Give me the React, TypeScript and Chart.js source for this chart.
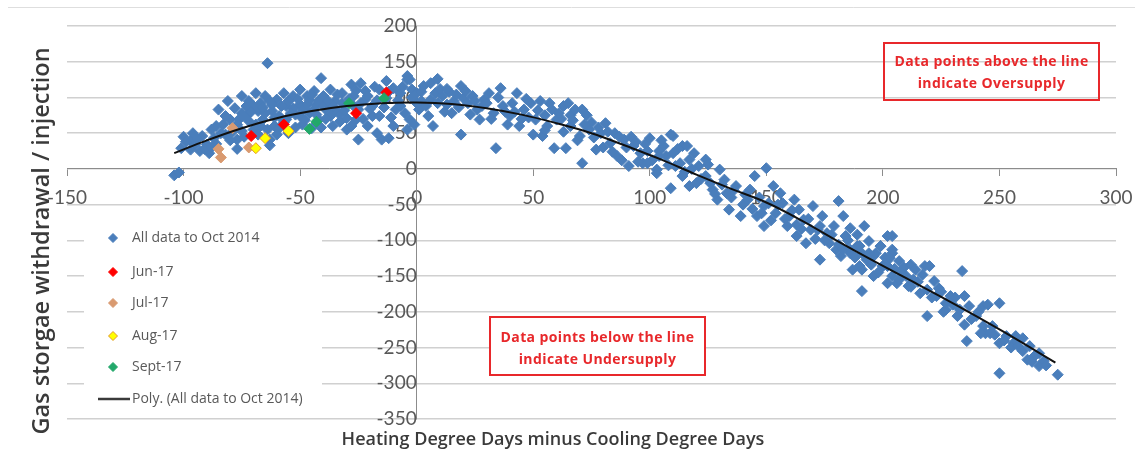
import { useEffect, useRef } from 'react';
import { Chart, registerables } from 'chart.js';

Chart.register(...registerables);

// ---------- DATA ----------
const xTickRange = { min: -150, max: 300, step: 50 };
const yTickRange = { min: -350, max: 200, step: 50 };

const seriesNames = [
  'All data to Oct 2014',
  'Jun-17',
  'Jul-17',
  'Aug-17',
  'Sept-17',
  'Poly. (All data to Oct 2014)',
];

const allData: [number, number][] = [
  [-104, -9], [-102, -5],
  [-100, 45], [-97, 39], [-101, 29], [-97, 27], [-95, 34], [-93, 25], [-90, 34], [-89, 22], [-88, 55], [-87, 43],
  [-85, 83], [-81, 95], [-83, 62], [-82, 48], [-80, 69], [-77, 41], [-75, 78], [-75, 102], [-73, 88], [-72, 67],
  [-70, 55], [-69, 106], [-68, 81], [-67, 92], [-66, 69], [-65, 102], [-63, 41], [-62, 81], [-61, 60], [-60, 97],
  [-59, 74], [-57, 106], [-56, 88], [-55, 50], [-53, 102], [-52, 76], [-50, 111], [-50, 90], [-49, 62], [-47, 102],
  [-46, 78], [-44, 109], [-43, 90], [-42, 69], [-40, 102], [-39, 83], [-37, 111], [-36, 60], [-35, 95], [-33, 76],
  [-32, 106], [-30, 55], [-28, 118], [-27, 88], [-26, 69], [-25, 41], [-24, 120], [-22, 97], [-21, 60], [-19, 74],
  [-17, 50], [-16, 111], [-15, 41], [-13, 123], [-12, 43], [-10, 60], [-9, 83], [-7, 106], [-4, 125], [-3, 69], [0, 92],
  [-96, 50], [-92, 46], [-86, 60], [-82, 74], [-77, 62], [-75, 53], [-73, 74], [-70, 88], [-67, 60], [-65, 78],
  [-62, 90], [-59, 57], [-56, 69], [-53, 85], [-50, 74], [-47, 90], [-45, 57], [-43, 76], [-40, 88], [-37, 74],
  [-35, 83], [-32, 92], [-30, 71], [-27, 102], [-25, 83], [-22, 109], [-19, 88], [-16, 74], [-13, 99], [-10, 113],
  [-7, 88], [-4, 55], [-2, 111], [-77, 28], [-63, 33],
  [-64, 148], [-41, 127], [-4, 130], [9, 126],
  [-99, 38], [-94, 42], [-91, 28], [-88, 30], [-86, 35], [-84, 50], [-80, 40], [-79, 52], [-78, 85], [-76, 70],
  [-74, 45], [-72, 95], [-71, 80], [-69, 62], [-68, 48], [-66, 86], [-64, 55], [-63, 95], [-61, 72], [-60, 48],
  [-58, 88], [-57, 65], [-55, 95], [-54, 78], [-52, 58], [-51, 98], [-49, 82], [-48, 68], [-46, 96], [-45, 104],
  [-44, 84], [-42, 96], [-41, 58], [-39, 70], [-38, 95], [-36, 88], [-34, 104], [-33, 66], [-31, 82], [-29, 98],
  [-28, 60], [-26, 110], [-24, 92], [-23, 70], [-21, 102], [-20, 84], [-18, 115], [-17, 96], [-14, 86], [-12, 108],
  [-11, 72], [-8, 96], [-6, 115], [-5, 78], [-2, 100], [-1, 62],
  [-3, 125], [0, 106], [3, 116], [1, 83], [5, 74], [7, 60], [6, 97], [8, 106], [11, 102], [13, 90], [15, 78],
  [19, 116], [19, 48], [20, 99], [22, 92], [26, 83], [27, 69], [29, 97], [31, 106], [33, 78], [34, 29], [36, 113],
  [37, 88], [39, 62], [40, 74], [43, 106], [44, 60], [46, 83], [49, 92], [50, 48], [51, 69], [53, 95], [54, 46],
  [56, 60], [58, 83], [59, 29], [60, 69], [63, 88], [64, 29], [66, 60], [68, 83], [70, 46], [71, 83], [71, 8],
  [74, 55], [77, 27], [79, 50], [81, 64], [83, 36], [86, 18], [89, 41], [91, 4], [93, 32], [96, 22], [97, 8],
  [100, 43], [103, -1], [106, 32], [107, 18], [110, 46], [111, 4], [114, 32], [117, 13],
  [2, 95], [10, 112], [16, 95], [24, 102], [14, 108], [28, 88], [42, 80], [48, 72], [55, 75], [62, 70], [66, 75],
  [75, 65], [85, 50], [92, 45], [98, 35], [104, 25],
  [2, 108], [4, 88], [6, 120], [9, 92], [12, 80], [13, 112], [17, 104], [18, 86], [21, 109], [23, 76], [25, 95],
  [30, 92], [32, 70], [35, 100], [38, 80], [41, 92], [45, 70], [47, 98], [52, 82], [55, 54], [57, 92], [61, 78],
  [63, 52], [65, 92], [67, 68], [69, 40], [72, 62], [73, 75], [76, 44], [78, 58], [80, 30], [82, 52], [84, 24],
  [87, 45], [88, 12], [90, 30], [94, 38], [95, 10], [99, 25], [101, 12], [105, 40], [108, 5], [112, 28], [115, -4],
  [109, 48], [99, 8], [103, -6], [110, 22], [113, 8], [109, -27], [114, -10], [119, 22], [117, -24], [121, 4],
  [124, -10], [127, -29], [130, -1], [129, -43], [133, -34], [137, -24], [139, -66], [142, -43], [145, -10], [150, 1],
  [149, -52], [149, -80], [153, -24], [154, -62], [157, -48], [159, -80], [162, -43], [163, -94], [166, -71],
  [167, -104], [170, -52], [172, -85], [173, -127], [174, -66], [177, -104], [179, -80], [181, -45], [182, -122],
  [183, -66], [184, -94], [187, -141], [189, -108], [192, -80], [193, -127], [196, -150], [199, -108], [202, -94],
  [202, -136], [204, -118], [206, -160],
  [104, 18], [116, 32], [120, -20], [124, 13], [132, -15], [134, -57], [143, -29], [146, -66], [156, -34], [160, -66],
  [164, -57], [169, -85], [176, -90], [180, -113], [186, -118], [190, -136], [196, -122], [200, -136], [204, -150],
  [118, 0], [122, -14], [125, 6], [126, -20], [128, -35], [131, -22], [135, -40], [136, -30], [140, -50], [141, -36],
  [144, -56], [147, -40], [148, -62], [151, -48], [152, -72], [155, -50], [158, -70], [161, -58], [163, -78],
  [165, -84], [168, -70], [171, -98], [173, -80], [175, -100], [178, -92], [181, -106], [183, -112], [185, -100],
  [188, -124], [191, -118], [195, -134], [198, -145], [201, -124], [205, -140], [207, -155], [209, -138],
  [186, -83], [189, -92], [186, -113], [190, -108], [194, -101], [193, -122], [191, -141], [191, -171], [197, -118],
  [200, -136], [202, -160], [204, -94], [203, -125], [207, -129], [208, -146], [211, -164], [212, -134], [214, -141],
  [216, -174], [218, -136], [220, -136], [219, -206], [222, -157], [224, -167], [227, -188], [229, -178], [234, -143],
  [232, -206], [235, -178], [235, -218], [237, -192], [236, -241], [243, -192], [245, -190], [250, -188], [244, -230],
  [247, -220], [250, -244], [250, -286], [257, -234], [260, -237], [263, -248], [262, -267], [267, -258], [267, -276],
  [275, -288],
  [194, -118], [199, -108], [204, -113], [210, -150], [213, -155], [219, -169], [223, -178], [227, -197], [233, -197],
  [240, -206], [243, -220], [246, -230], [253, -234], [256, -244], [260, -255], [265, -262], [269, -269],
  [212, -165], [215, -158], [217, -148], [221, -180], [225, -172], [226, -200], [230, -190], [231, -180], [238, -210],
  [241, -200], [242, -230], [248, -232], [252, -240], [255, -250], [258, -248], [264, -270], [270, -275],
];

const jun17: [number, number][] = [[-71, 46], [-57, 62], [-26, 78], [-13, 107]];
const jul17: [number, number][] = [[-79, 57], [-85, 28], [-84, 16], [-72, 30]];
const aug17: [number, number][] = [[-69, 29], [-65, 43], [-55, 53]];
const sept17: [number, number][] = [[-46, 56], [-43, 66], [-29, 92], [-14, 99]];

const polyTrend: [number, number][] = [
  [-104, 22], [-90, 40], [-75, 57], [-60, 71], [-45, 81], [-30, 88], [-15, 92], [0, 93], [15, 91], [30, 85],
  [45, 76], [60, 64], [75, 50], [90, 32], [105, 13], [120, -8], [135, -28], [150, -47], [165, -72], [180, -100],
  [195, -127], [210, -153], [225, -179], [240, -206], [255, -234], [274, -271],
];

const noteAbove = ['Data points above the line', 'indicate Oversupply'];
const noteBelow = ['Data points below the line', 'indicate Undersupply'];
const xTitle = 'Heating Degree Days minus Cooling Degree Days';
const yTitle = 'Gas storgae withdrawal / injection';

// ---------- STYLE ----------
const BLUE = '#4a7ebb';
const RED = '#ff0000';
const TAN = '#d99a70';
const AUG_FILL = '#ffff00';
const AUG_BORDER = '#e39a2c';
const GREEN = '#22a86a';
const TICK_COLOR = '#595959';
const GRID_COLOR = '#d0d0d0';
const AXIS_COLOR = '#8c8c8c';
const NOTE_RED = '#e8282b';

const toPts = (arr: [number, number][]) => arr.map(([x, y]) => ({ x, y }));

function diamond(ctx: CanvasRenderingContext2D, x: number, y: number, r: number, fill: string, stroke: string) {
  ctx.beginPath();
  ctx.moveTo(x, y - r);
  ctx.lineTo(x + r, y);
  ctx.lineTo(x, y + r);
  ctx.lineTo(x - r, y);
  ctx.closePath();
  ctx.fillStyle = fill;
  ctx.fill();
  ctx.lineWidth = 1;
  ctx.strokeStyle = stroke;
  ctx.stroke();
}

const zeroPad = (scale: any) => {
  scale.paddingTop = 0;
  scale.paddingBottom = 0;
  scale.paddingLeft = 0;
  scale.paddingRight = 0;
};

const decorPlugin = {
  id: 'decor',
  afterDraw(chart: any) {
    const ctx: CanvasRenderingContext2D = chart.ctx;
    ctx.save();

    // faint frame line at top
    ctx.strokeStyle = '#dedede';
    ctx.lineWidth = 1;
    ctx.beginPath();
    ctx.moveTo(8, 7.5);
    ctx.lineTo(1135, 7.5);
    ctx.stroke();

    // legend
    ctx.fillStyle = '#ffffff';
    ctx.fillRect(84, 222, 238, 190);
    const rows = [238, 272, 303, 336, 367, 399];
    const ds = chart.data.datasets;
    ctx.font = "14px 'Open Sans'";
    ctx.textBaseline = 'middle';
    ctx.textAlign = 'left';
    for (let i = 0; i < 5; i++) {
      const d = ds[i];
      diamond(ctx, 113, rows[i], 4.5, d.backgroundColor, d.borderColor);
      ctx.fillStyle = TICK_COLOR;
      ctx.fillText(d.label, 132, rows[i]);
    }
    ctx.strokeStyle = '#3a3a3a';
    ctx.lineWidth = 2.5;
    ctx.beginPath();
    ctx.moveTo(98, rows[5]);
    ctx.lineTo(130, rows[5]);
    ctx.stroke();
    ctx.fillStyle = TICK_COLOR;
    ctx.fillText(ds[5].label, 132, rows[5]);

    // note boxes
    const drawNote = (lines: string[], x0: number, y0: number, x1: number, y1: number, fill: boolean, ys: number[]) => {
      if (fill) {
        ctx.fillStyle = '#ffffff';
        ctx.fillRect(x0, y0, x1 - x0, y1 - y0);
      }
      ctx.strokeStyle = NOTE_RED;
      ctx.lineWidth = 2;
      ctx.strokeRect(x0, y0, x1 - x0, y1 - y0);
      ctx.fillStyle = NOTE_RED;
      ctx.font = "bold 14px 'Open Sans'";
      (ctx as any).letterSpacing = '0.4px';
      ctx.textAlign = 'center';
      ctx.textBaseline = 'middle';
      lines.forEach((t, i) => ctx.fillText(t, (x0 + x1) / 2, ys[i]));
      (ctx as any).letterSpacing = '0px';
    };
    drawNote(noteAbove, 884, 43, 1099, 100, false, [62, 84]);
    drawNote(noteBelow, 490, 317, 705, 375, true, [338, 360]);

    // axis titles
    ctx.fillStyle = '#3a3a3a';
    ctx.textAlign = 'center';
    ctx.textBaseline = 'middle';
    ctx.font = "600 18px 'Open Sans'";
    ctx.fillText(xTitle, 553, 440);
    ctx.save();
    ctx.translate(42, 241);
    ctx.rotate(-Math.PI / 2);
    ctx.font = "600 23.5px 'Open Sans'";
    ctx.fillText(yTitle, 0, 0);
    ctx.restore();

    ctx.restore();
  },
};

export default function App() {
  const canvasRef = useRef<HTMLCanvasElement | null>(null);

  useEffect(() => {
    if (!canvasRef.current) return;
    const pointDs = (label: string, data: [number, number][], bg: string, border: string, order: number, r = 5.5) => ({
      type: 'scatter' as const,
      label,
      data: toPts(data),
      backgroundColor: bg,
      borderColor: border,
      borderWidth: 1,
      pointStyle: 'rectRot',
      pointRadius: r,
      pointHoverRadius: r,
      order,
    });
    const chart = new Chart(canvasRef.current, {
      type: 'scatter',
      data: {
        datasets: [
          pointDs(seriesNames[0], allData, BLUE, BLUE, 6),
          pointDs(seriesNames[1], jun17, RED, RED, 5),
          pointDs(seriesNames[2], jul17, TAN, TAN, 4),
          pointDs(seriesNames[3], aug17, AUG_FILL, AUG_BORDER, 3),
          pointDs(seriesNames[4], sept17, GREEN, GREEN, 2),
          {
            type: 'line' as const,
            label: seriesNames[5],
            data: toPts(polyTrend),
            borderColor: '#111111',
            backgroundColor: '#111111',
            borderWidth: 2,
            pointRadius: 0,
            showLine: true,
            fill: false,
            tension: 0.4,
            order: 0,
          } as any,
        ],
      },
      options: {
        responsive: false,
        animation: false,
        layout: { padding: { left: 67, right: 19, top: 26, bottom: 40 } },
        plugins: { legend: { display: false }, tooltip: { enabled: false } },
        scales: {
          x: {
            type: 'linear',
            min: xTickRange.min,
            max: xTickRange.max,
            position: { y: 0 } as any,
            afterFit: zeroPad,
            ticks: {
              stepSize: xTickRange.step,
              color: TICK_COLOR,
              font: { family: 'Lato', size: 19 },
              padding: 11,
              maxRotation: 0,
            },
            grid: { drawOnChartArea: false, drawTicks: true, tickLength: 7, color: AXIS_COLOR },
            border: { color: AXIS_COLOR, width: 1 },
          },
          y: {
            type: 'linear',
            min: yTickRange.min,
            max: yTickRange.max,
            position: { x: 0 } as any,
            afterFit: zeroPad,
            ticks: {
              stepSize: yTickRange.step,
              color: TICK_COLOR,
              font: { family: 'Lato', size: 19 },
              padding: 20,
            },
            grid: { color: GRID_COLOR, lineWidth: 1.5, drawTicks: true, tickLength: 7 },
            border: { color: AXIS_COLOR, width: 1 },
          },
        },
      },
      plugins: [decorPlugin],
    } as any);
    return () => chart.destroy();
  }, []);

  return (
    <div style={{ position: 'fixed', left: 0, top: 0, width: 1135, height: 459, background: '#fff' }}>
      <canvas ref={canvasRef} width={1135} height={459} />
    </div>
  );
}
